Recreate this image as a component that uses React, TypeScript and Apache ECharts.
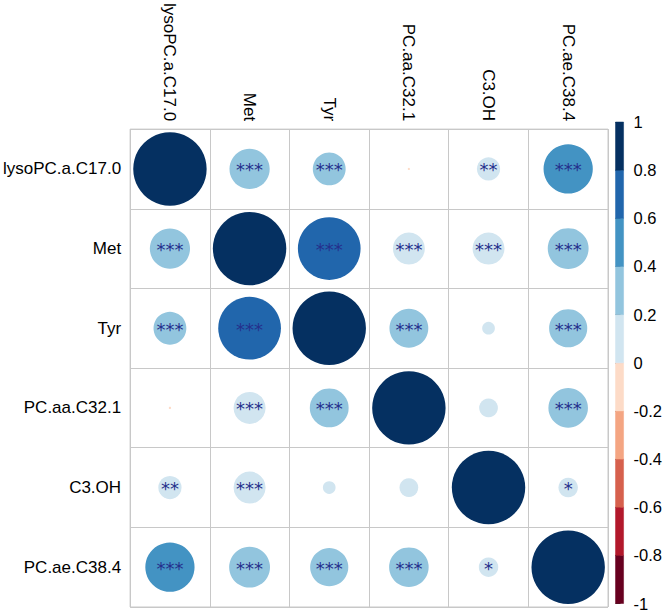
import React, { useEffect, useRef } from "react";
import * as echarts from "echarts";

const names = ["lysoPC.a.C17.0", "Met", "Tyr", "PC.aa.C32.1", "C3.OH", "PC.ae.C38.4"];

const corrRows: number[][] = [
  [1, 0.3, 0.2, -0.001, 0.1, 0.45],
  [0.3, 1, 0.73, 0.19, 0.19, 0.31],
  [0.2, 0.73, 1, 0.28, 0.03, 0.27],
  [-0.001, 0.19, 0.28, 1, 0.065, 0.29],
  [0.1, 0.19, 0.03, 0.065, 1, 0.07],
  [0.45, 0.31, 0.27, 0.29, 0.07, 1],
];

const sigRows: string[][] = [
  ["", "***", "***", "", "**", "***"],
  ["***", "", "***", "***", "***", "***"],
  ["***", "***", "", "***", "", "***"],
  ["", "***", "***", "", "", "***"],
  ["**", "***", "", "", "", "*"],
  ["***", "***", "***", "***", "*", ""],
];

const binEdges = [-1, -0.8, -0.6, -0.4, -0.2, 0, 0.2, 0.4, 0.6, 0.8, 1];
const binColors = [
  "#67001F", "#B2182B", "#D6604D", "#F4A582", "#FDDBC7",
  "#D1E5F0", "#92C5DE", "#4393C3", "#2166AC", "#053061",
];

function colorFor(v: number): string {
  for (let k = 0; k < binColors.length; k++) {
    if (v < binEdges[k + 1] || k === binColors.length - 1) return binColors[k];
  }
  return binColors[binColors.length - 1];
}

const GRID_LEFT = 124;
const GRID_TOP = 123;
const GRID_SIZE = 484;
const FULL_D = (GRID_SIZE / 6) * 0.91;

export default function App() {
  const ref = useRef<HTMLDivElement>(null);
  useEffect(() => {
    if (!ref.current) return;
    const chart = echarts.init(ref.current, undefined, { renderer: "svg" });
    const cells: any[] = [];
    corrRows.forEach((row, i) =>
      row.forEach((v, j) => {
        cells.push({ value: [j, i, v], sig: sigRows[i][j] });
      })
    );
    const bins = binColors.map((c, k) => [binEdges[k], binEdges[k + 1], k]);
    const font = "'Liberation Sans', Arial, sans-serif";
    chart.setOption({
      animation: false,
      backgroundColor: "#ffffff",
      grid: [
        {
          left: GRID_LEFT,
          top: GRID_TOP,
          width: GRID_SIZE,
          height: GRID_SIZE,
          show: true,
          borderColor: "#c8c8c8",
          borderWidth: 1,
        },
        { left: 615.5, top: 122, width: 15.5, height: 486 },
      ],
      xAxis: [
        {
          type: "category",
          data: names,
          position: "top",
          gridIndex: 0,
          axisLine: { show: false },
          axisTick: { show: false },
          splitLine: { show: true, interval: 0, lineStyle: { color: "#c8c8c8", width: 1 } },
          axisLabel: { rotate: 90, margin: 8, color: "#000", fontSize: 17, fontFamily: font, interval: 0 },
        },
        { type: "value", gridIndex: 1, min: 0, max: 1, show: false },
      ],
      yAxis: [
        {
          type: "category",
          data: names,
          inverse: true,
          gridIndex: 0,
          axisLine: { show: false },
          axisTick: { show: false },
          splitLine: { show: true, interval: 0, lineStyle: { color: "#c8c8c8", width: 1 } },
          axisLabel: { margin: 9, color: "#000", fontSize: 17, fontFamily: font, interval: 0 },
        },
        {
          type: "value",
          gridIndex: 1,
          position: "right",
          min: -1,
          max: 1,
          interval: 0.2,
          axisLine: { show: false },
          splitLine: { show: false },
          axisTick: { show: true, length: 5, inside: false, lineStyle: { color: "#333" } },
          axisLabel: {
            margin: 10,
            color: "#000",
            fontSize: 16.5,
            fontFamily: font,
            formatter: (v: number) => String(Math.round(v * 10) / 10),
          },
        },
      ],
      series: [
        {
          type: "scatter",
          xAxisIndex: 0,
          yAxisIndex: 0,
          data: cells,
          symbol: "circle",
          symbolSize: (val: number[]) => FULL_D * Math.sqrt(Math.abs(val[2])),
          itemStyle: { color: (p: any) => colorFor(p.value[2]), opacity: 1 },
          label: {
            show: true,
            position: "inside",
            formatter: (p: any) => p.data.sig,
            color: "#25308C",
            fontSize: 18,
            fontFamily: "'DejaVu Sans', sans-serif",
            offset: [0, 1],
          },
          emphasis: { disabled: true },
        },
        {
          type: "custom",
          xAxisIndex: 1,
          yAxisIndex: 1,
          data: bins,
          renderItem: (params: any, api: any) => {
            const lo = api.value(0);
            const hi = api.value(1);
            const k = api.value(2);
            const top = api.coord([0, hi]);
            const bot = api.coord([0, lo]);
            const cs = params.coordSys;
            return {
              type: "rect",
              shape: { x: cs.x, y: top[1], width: cs.width, height: bot[1] - top[1] },
              style: { fill: binColors[k], stroke: binColors[k], lineWidth: 0.5 },
            };
          },
        },
      ],
    });
    return () => chart.dispose();
  }, []);
  return (
    <div
      ref={ref}
      style={{ position: "fixed", left: 0, top: 0, width: 665, height: 612 }}
    />
  );
}
